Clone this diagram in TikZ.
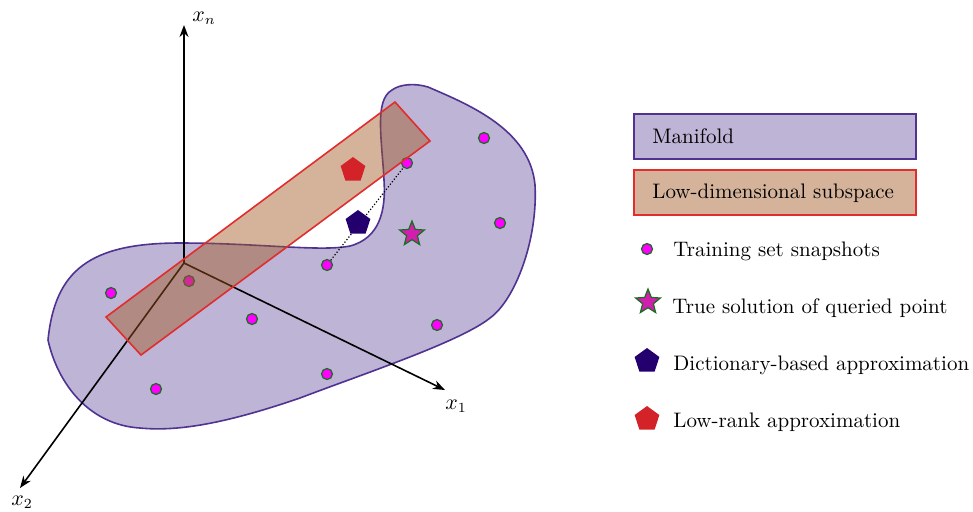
\documentclass[tikz,border=0pt]{standalone}
\usetikzlibrary{shapes.geometric,arrows.meta}
\definecolor{manfill}{RGB}{168,155,200}
\definecolor{manlegend}{RGB}{190,180,214}
\definecolor{manline}{RGB}{80,50,145}
\definecolor{subfill}{RGB}{160,87,31}
\definecolor{sublegend}{RGB}{212,179,154}
\definecolor{subline}{RGB}{225,45,45}
\definecolor{dotfill}{RGB}{255,0,255}
\definecolor{dotline}{RGB}{20,110,30}
\definecolor{starfill}{RGB}{210,30,175}
\definecolor{dictcol}{RGB}{35,0,110}
\definecolor{lrcol}{RGB}{212,35,40}
\tikzset{
  axis/.style={line width=0.8pt,-{Stealth[length=6pt,width=4.5pt]}},
  snap/.style={circle,fill=dotfill,draw=dotline,line width=0.6pt,minimum size=5.5pt,inner sep=0pt},
  truestar/.style={star,star points=5,star point ratio=2.3,fill=starfill,draw=dotline,line width=0.6pt,minimum size=13pt,inner sep=0pt},
  dictpent/.style={regular polygon,regular polygon sides=5,fill=dictcol,minimum size=13pt,inner sep=0pt},
  lrpent/.style={regular polygon,regular polygon sides=5,fill=lrcol,minimum size=13pt,inner sep=0pt},
  legbox/.style={draw,line width=0.8pt,anchor=north west,minimum width=141pt,minimum height=22.5pt,inner sep=0pt},
  legtext/.style={anchor=west,inner sep=0pt},
}
\begin{document}
\begin{tikzpicture}[x=0.5pt,y=-0.5pt,font=\fontsize{10.5}{12.5}\selectfont]
\useasboundingbox (0,0) rectangle (973,511);
% manifold
\draw[manline,line width=0.8pt,fill=manfill,fill opacity=0.75]
  (48,340) .. controls (55,270) and (90,243) .. (180,243)
  .. controls (260,243) and (320,252) .. (350,246)
  .. controls (380,238) and (386,210) .. (384,180)
  .. controls (382,140) and (374,100) .. (392,90)
  .. controls (400,84) and (415,83) .. (428,87)
  .. controls (470,105) and (530,130) .. (535,185)
  .. controls (538,240) and (515,300) .. (490,318)
  .. controls (460,342) and (360,375) .. (300,398)
  .. controls (230,422) and (180,432) .. (140,428)
  .. controls (90,425) and (58,385) .. (48,340) -- cycle;
% axes
\coordinate (O) at (184,263);
\coordinate (Xn) at (184,25);
\coordinate (X1) at (445,390);
\coordinate (X2) at (20,488);
\draw[axis] (O) -- (Xn);
\draw[axis] (O) -- (X1);
\draw[axis] (O) -- (X2);
\node[anchor=west,inner sep=0pt] (lxn) at (192,18) {$x_n$};
\node[anchor=west,inner sep=0pt] (lx1) at (445,406) {$x_1$};
\node[anchor=west,inner sep=0pt] (lx2) at (11,502) {$x_2$};
% snapshots
\node[snap] (s1) at (111,293) {};
\node[snap] (s2) at (189,281) {};
\node[snap] (s3) at (252,319) {};
\node[snap] (s4) at (156,389) {};
\node[snap] (s5) at (327,265) {};
\node[snap] (s6) at (327,374) {};
\node[snap] (s7) at (407,163) {};
\node[snap] (s8) at (484,138) {};
\node[snap] (s9) at (500,223) {};
\node[snap] (s10) at (437,325) {};
\draw[densely dotted,line width=0.6pt] (s5) -- (s7);
% subspace
\draw[subline,line width=0.8pt,fill=subfill,fill opacity=0.45]
  (106,317) -- (395,102) -- (430,141) -- (141,355) -- cycle;
% approximations
\node[lrpent] (lr) at (353,170) {};
\node[dictpent] (dict) at (358,223) {};
\node[truestar] (true) at (412,234) {};
% legend
\node[legbox,draw=manline,fill=manlegend] (lb1) at (633,113) {};
\node[legtext] (lt1) at (652,136) {Manifold};
\node[legbox,draw=subline,fill=sublegend] (lb2) at (633,169) {};
\node[legtext] (lt2) at (652,193) {Low-dimensional subspace};
\node[snap] (ls) at (647,249) {};
\node[legtext] (lt3) at (673,251) {Training set snapshots};
\node[truestar] (lstar) at (648,302) {};
\node[legtext] (lt4) at (672,308) {True solution of queried point};
\node[dictpent] (ld) at (647,361) {};
\node[legtext] (lt5) at (673,365) {Dictionary-based approximation};
\node[lrpent] (ll) at (647,419) {};
\node[legtext] (lt6) at (673,422) {Low-rank approximation};
\end{tikzpicture}
\end{document}
